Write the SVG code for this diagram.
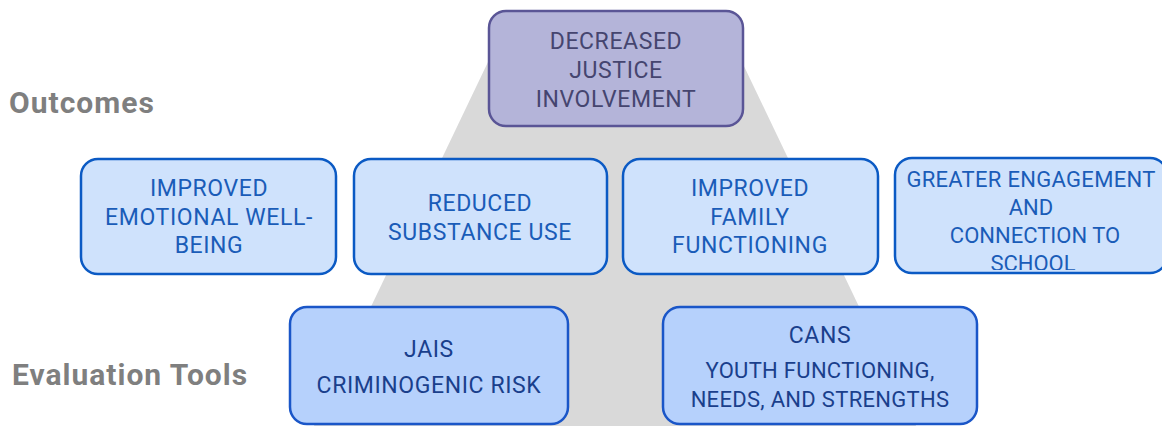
<svg xmlns="http://www.w3.org/2000/svg" width="1162" height="426" viewBox="0 0 1162 426">
  <style>
    .lbl { font-family: Roboto, "Liberation Sans", sans-serif; font-weight: bold; font-size: 30px; letter-spacing: 1px; fill: #7f7f7f; }
    .t { font-family: Roboto, "Liberation Sans", sans-serif; font-size: 23px; letter-spacing: 0.6px; text-anchor: middle; }
    .t.sm { font-size: 22px; letter-spacing: 0; }
    .t.md { font-size: 22px; letter-spacing: 0.3px; }
    .top rect { fill: #b4b4d9; stroke: #5a5596; stroke-width: 2.5; }
    .top text { fill: #45456f; }
    .out rect { fill: #cfe2fc; stroke: #0b5ac4; stroke-width: 2.5; }
    .out text { fill: #1a5cb8; }
    .tool rect { fill: #b6d1fc; stroke: #1a56c8; stroke-width: 2.5; }
    .tool text { fill: #1a3f8c; }
  </style>
  <defs>
    <clipPath id="clip-school">
      <rect x="897" y="160" width="263" height="110" rx="16"/>
    </clipPath>
  </defs>

  <rect width="1162" height="426" fill="#ffffff"/>

  <!-- background pyramid (flat top hidden behind the top box) -->
  <polygon points="510,16 720,16 918,430 312,430" fill="#d9d9d9"/>

  <!-- tier labels -->
  <text class="lbl" x="9" y="113">Outcomes</text>
  <text class="lbl" x="12" y="385">Evaluation Tools</text>

  <g id="connectors"></g>

  <g id="node-justice" class="top">
    <rect x="489" y="11" width="254" height="115" rx="17"/>
    <text class="t" x="616" y="49">DECREASED</text>
    <text class="t" x="616" y="78">JUSTICE</text>
    <text class="t" x="616" y="107">INVOLVEMENT</text>
  </g>

  <g id="node-emotional" class="out">
    <rect x="81" y="159" width="255" height="115" rx="17"/>
    <text class="t" x="209" y="196">IMPROVED</text>
    <text class="t" x="209" y="225">EMOTIONAL WELL-</text>
    <text class="t" x="209" y="253">BEING</text>
  </g>

  <g id="node-substance" class="out">
    <rect x="354" y="159" width="253" height="115" rx="17"/>
    <text class="t" x="480" y="211">REDUCED</text>
    <text class="t" x="480" y="240">SUBSTANCE USE</text>
  </g>

  <g id="node-family" class="out">
    <rect x="623" y="159" width="255" height="115" rx="17"/>
    <text class="t" x="750" y="196">IMPROVED</text>
    <text class="t" x="750" y="225">FAMILY</text>
    <text class="t" x="750" y="253">FUNCTIONING</text>
  </g>

  <g id="node-school" class="out">
    <rect x="895" y="158" width="272" height="115" rx="17"/>
    <g clip-path="url(#clip-school)">
      <text class="t md" x="1031" y="187">GREATER ENGAGEMENT</text>
      <text class="t sm" x="1031" y="215">AND</text>
      <text class="t sm" x="1035" y="243">CONNECTION TO</text>
      <text class="t sm" x="1033" y="271">SCHOOL</text>
    </g>
  </g>

  <g id="node-jais" class="tool">
    <rect x="290" y="307" width="278" height="117" rx="17"/>
    <text class="t" x="429" y="357">JAIS</text>
    <text class="t" x="429" y="393">CRIMINOGENIC RISK</text>
  </g>

  <g id="node-cans" class="tool">
    <rect x="663" y="307" width="314" height="117" rx="17"/>
    <text class="t" x="820" y="343">CANS</text>
    <text class="t md" x="820" y="378">YOUTH FUNCTIONING,</text>
    <text class="t md" x="820" y="407">NEEDS, AND STRENGTHS</text>
  </g>
</svg>
